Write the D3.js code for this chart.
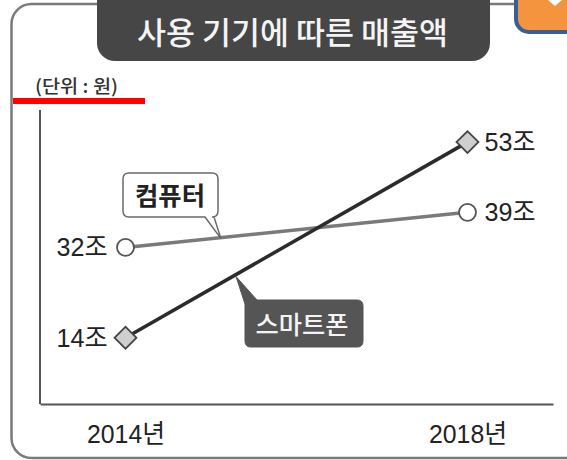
<!DOCTYPE html>
<html>
<head>
<meta charset="utf-8">
<script src="https://cdn.jsdelivr.net/npm/d3@7"></script>
<style>
  html, body { margin: 0; padding: 0; background: #fff; }
  svg { display: block; }
</style>
</head>
<body>
<svg id="chart" width="567" height="460"></svg>
<script>
// ---- data ----
const years = ["2014년", "2018년"];
const computerValues = [32, 39];
const smartphoneValues = [14, 53];
const seriesNames = ["컴퓨터", "스마트폰"];
const valueUnit = "조";
const titleText = "사용 기기에 따른 매출액";
const unitText = "(단위 : 원)";

// ---- setup ----
const svg = d3.select("#chart");
const FONT = "'Liberation Sans', Arial, 'Noto Sans CJK KR', sans-serif";
const KFONT = "'Noto Sans CJK KR', 'Noto Sans', sans-serif";

const x = d3.scalePoint().domain(years).range([40, 553]).padding(0.25);
const y = d3.scaleLinear().domain([0, 60]).range([408, 107]);

// outer frame
svg.append("rect")
  .attr("x", 11.5).attr("y", 4).attr("width", 620).attr("height", 454)
  .attr("rx", 20)
  .attr("fill", "none").attr("stroke", "#7a7a7a").attr("stroke-width", 2.5);

// title box
svg.append("rect")
  .attr("x", 97).attr("y", -30).attr("width", 393).attr("height", 91)
  .attr("rx", 18).attr("fill", "#464646");
svg.append("text")
  .attr("x", 292.5).attr("y", 44)
  .attr("text-anchor", "middle")
  .attr("font-family", KFONT).attr("font-size", 31).attr("font-weight", 500)
  .attr("fill", "#f4f4f4")
  .attr("textLength", 311).attr("lengthAdjust", "spacingAndGlyphs")
  .text(titleText);

// orange corner badge
svg.append("rect")
  .attr("x", 516).attr("y", -30).attr("width", 90).attr("height", 62)
  .attr("rx", 13).attr("fill", "#F5943F")
  .attr("stroke", "#3A5E96").attr("stroke-width", 4);
svg.append("path")
  .attr("d", "M548,0 L555,6 L562,0 Z").attr("fill", "#fff");

// unit text + red bar
svg.append("text")
  .attr("x", 35).attr("y", 93)
  .attr("font-family", KFONT).attr("font-size", 18).attr("font-weight", 500)
  .attr("fill", "#333")
  .attr("textLength", 83).attr("lengthAdjust", "spacingAndGlyphs")
  .text(unitText);
svg.append("rect")
  .attr("x", 13).attr("y", 98).attr("width", 132).attr("height", 6)
  .attr("fill", "#ff0000");

// y axis line
svg.append("line")
  .attr("x1", 40).attr("x2", 40).attr("y1", 110).attr("y2", 404)
  .attr("stroke", "#555").attr("stroke-width", 2);

// x axis
const xAxis = svg.append("g")
  .attr("transform", "translate(0,404)")
  .call(d3.axisBottom(x).tickSize(0).tickSizeOuter(0));
xAxis.select(".domain").attr("stroke", "#555").attr("stroke-width", 2);
xAxis.selectAll("text")
  .attr("y", 39).attr("dy", 0)
  .attr("font-family", FONT).attr("font-size", 26)
  .attr("fill", "#222")
  .attr("textLength", 78).attr("lengthAdjust", "spacingAndGlyphs");

// series
const series = [
  { name: seriesNames[0], values: computerValues, color: "#7a7a7a", marker: "circle" },
  { name: seriesNames[1], values: smartphoneValues, color: "#2b2b2b", marker: "diamond" }
];

const line = d3.line().x((d, i) => x(years[i])).y(d => y(d));

series.forEach(s => {
  svg.append("path")
    .attr("d", line(s.values))
    .attr("fill", "none").attr("stroke", s.color).attr("stroke-width", 3.5);
});

series.forEach(s => {
  const g = svg.append("g");
  s.values.forEach((v, i) => {
    const cx = x(years[i]), cy = y(v);
    if (s.marker === "circle") {
      g.append("circle").attr("cx", cx).attr("cy", cy).attr("r", 8.5)
        .attr("fill", "#fff").attr("stroke", "#555").attr("stroke-width", 1.8);
    } else {
      g.append("path")
        .attr("d", d3.symbol(d3.symbolSquare, 240)())
        .attr("transform", `translate(${cx},${cy}) rotate(45)`)
        .attr("fill", "#cfcfcf").attr("stroke", "#444").attr("stroke-width", 1.8);
    }
    g.append("text")
      .attr("x", i === 0 ? cx - 18 : cx + 17)
      .attr("y", cy + 9)
      .attr("text-anchor", i === 0 ? "end" : "start")
      .attr("font-family", FONT).attr("font-size", 26)
      .attr("fill", "#222")
      .attr("textLength", 51).attr("lengthAdjust", "spacingAndGlyphs")
      .text(v + valueUnit);
  });
});

// helper: point on a series line at a given x
function yOnLine(values, px) {
  const x0 = x(years[0]), x1 = x(years[1]);
  const t = (px - x0) / (x1 - x0);
  return y(values[0] + (values[1] - values[0]) * t);
}

// computer callout (white box, tail pointing down to line)
{
  const tipX = 221, tipY = yOnLine(computerValues, tipX) + 1;
  const bx = 123, by = 173, bw = 95, bh = 44, r = 6;
  const p = d3.path();
  p.moveTo(bx + r, by);
  p.lineTo(bx + bw - r, by);
  p.quadraticCurveTo(bx + bw, by, bx + bw, by + r);
  p.lineTo(bx + bw, by + bh - r);
  p.quadraticCurveTo(bx + bw, by + bh, bx + bw - r, by + bh);
  p.lineTo(214, by + bh);
  p.lineTo(tipX, tipY);
  p.lineTo(205, by + bh);
  p.lineTo(bx + r, by + bh);
  p.quadraticCurveTo(bx, by + bh, bx, by + bh - r);
  p.lineTo(bx, by + r);
  p.quadraticCurveTo(bx, by, bx + r, by);
  p.closePath();
  svg.append("path").attr("d", p.toString())
    .attr("fill", "#fff").attr("stroke", "#6a6a6a").attr("stroke-width", 1.5);
  svg.append("text")
    .attr("x", 170).attr("y", 205)
    .attr("text-anchor", "middle")
    .attr("font-family", KFONT).attr("font-size", 25).attr("font-weight", 700)
    .attr("fill", "#222")
    .attr("textLength", 70).attr("lengthAdjust", "spacingAndGlyphs")
    .text(seriesNames[0]);
}

// smartphone callout (dark box, tail pointing up to line)
{
  const tipX = 236, tipY = yOnLine(smartphoneValues, tipX) + 2;
  const bx = 245, by = 300, bw = 118, bh = 47, r = 6;
  const p = d3.path();
  p.moveTo(257, by);
  p.lineTo(bx + bw - r, by);
  p.quadraticCurveTo(bx + bw, by, bx + bw, by + r);
  p.lineTo(bx + bw, by + bh - r);
  p.quadraticCurveTo(bx + bw, by + bh, bx + bw - r, by + bh);
  p.lineTo(bx + r, by + bh);
  p.quadraticCurveTo(bx, by + bh, bx, by + bh - r);
  p.lineTo(bx, by + 4);
  p.lineTo(tipX, tipY);
  p.closePath();
  svg.append("path").attr("d", p.toString())
    .attr("fill", "#555").attr("stroke", "#555").attr("stroke-width", 1);
  svg.append("text")
    .attr("x", 302).attr("y", 334)
    .attr("text-anchor", "middle")
    .attr("font-family", KFONT).attr("font-size", 25).attr("font-weight", 500)
    .attr("fill", "#f4f4f4")
    .attr("textLength", 93).attr("lengthAdjust", "spacingAndGlyphs")
    .text(seriesNames[1]);
}
</script>
</body>
</html>
